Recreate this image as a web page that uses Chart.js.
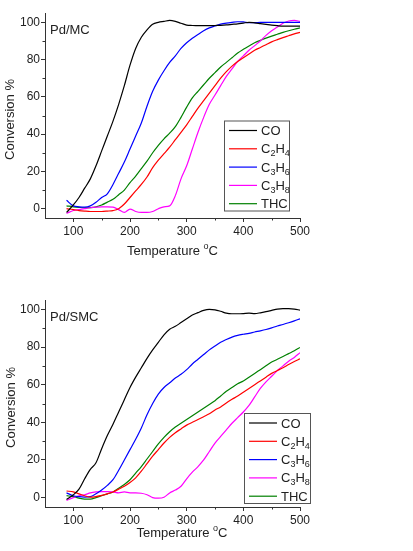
<!DOCTYPE html>
<html>
<head>
<meta charset="utf-8">
<script src="https://cdn.jsdelivr.net/npm/chart.js@4.4.0/dist/chart.umd.min.js"></script>
<style>
html, body { margin: 0; padding: 0; background: #fff; }
#c1 { position: absolute; left: 0; top: 0; }
#c2 { position: absolute; left: 0; top: 280px; }
</style>
</head>
<body>
<canvas id="c1" width="413" height="280"></canvas>
<canvas id="c2" width="413" height="271"></canvas>
<script>
// temperatures (°C) shared by every curve
var temps = [88, 100, 110, 120, 130, 140, 150, 160, 170, 180, 190, 200, 210, 220, 230, 240, 250, 260, 270, 280, 290,
             300, 310, 320, 330, 340, 350, 360, 370, 380, 390, 400, 410, 420, 430, 440, 450, 460, 470, 480, 490, 500];

var seriesNames = ['CO', 'C₂H₄', 'C₃H₆', 'C₃H₈', 'THC'];
var xTicks = [100, 200, 300, 400, 500];
var yTicks = [0, 20, 40, 60, 80, 100];
var xMinor = [150, 250, 350, 450];
var yMinor = [10, 30, 50, 70, 90];

// Pd/MC
var mcCO = [-2, 2, 6, 11, 16, 23, 31, 39, 47, 56, 66, 77, 86, 92, 96, 99, 100, 100.5, 101, 100.5, 99.5,
            98.5, 98.3, 98.2, 98.2, 98.2, 98.3, 98.4, 98.6, 98.9, 99.2, 99.6, 100, 99.7, 99.3, 98.9, 98.5, 98.2, 98, 98, 98, 98];
var mcC2H4 = [0, -0.5, -1, -1.3, -1.5, -1.5, -1.5, -1.3, -1, 0, 2.5, 6, 9.5, 13, 17, 22, 26, 29.5, 33, 37, 41,
              45, 49.5, 54, 58, 62, 66, 70, 73.5, 76.5, 79, 81, 83, 85, 86.5, 88, 89.5, 90.7, 91.8, 92.8, 93.8, 94.6];
var mcC3H6 = [4.5, 1.5, 1, 0.8, 1.5, 3.5, 6, 8, 13, 19, 25, 32, 39, 46, 55, 63, 69, 74, 78.5, 82, 86,
              89, 91.5, 93.5, 95.5, 97, 98, 99, 99.6, 100, 100.3, 100.2, 99.8, 99.8, 100, 100, 100, 100, 100, 100, 100, 100];
var mcC3H8 = [-2.5, -1, -0.5, 0, 0.5, 0.8, 1, 1, 0.8, -0.5, -2, -0.2, -1.5, -2, -2, -1.5, 0, 1, 1.5, 7, 16,
              23, 32, 41, 49, 56, 61, 66, 71, 75, 79, 82, 85, 87.5, 90, 93, 95.5, 97.5, 99.5, 100.7, 101, 100.5];
var mcTHC = [1.5, 1, 0.7, 0.5, 0.6, 1, 2, 3.5, 5, 7.5, 10, 14, 17.5, 21.5, 25.5, 30, 34, 37.5, 40.5, 44, 49,
             54.5, 59.5, 63, 66.5, 70, 73, 76, 78.5, 81, 83.5, 85.5, 87.3, 89, 90.3, 91.5, 92.6, 93.6, 94.6, 95.5, 96.3, 97];

// Pd/SMC
var smcCO = [-1, 1.5, 4.5, 10, 15, 18.5, 26, 33, 39, 45.5, 52, 58.5, 64, 69, 74, 78.5, 82.5, 86.5, 89.5, 91, 93,
             95, 97, 98.3, 99.5, 100, 99.8, 99, 98, 97.7, 97.7, 97.8, 98, 97.8, 98.2, 98.8, 99.5, 100.2, 100.4, 100.4, 100.2, 99.6];
var smcC2H4 = [3.5, 3, 2, 1, 0.2, 0.5, 1.2, 2, 3, 4.5, 6, 8, 10.5, 14, 18, 22, 25.5, 29, 32, 34.5, 36.5,
               38.5, 40, 41.5, 43, 44.5, 46.5, 48.2, 50.3, 52.2, 54, 56, 58, 60, 62, 64, 66, 67.5, 69, 70.7, 72.3, 73.7];
var smcC3H6 = [2.5, 1, 0.5, 0.3, 0.5, 2, 4, 6.5, 9.5, 14.5, 20, 25.5, 31, 37, 44, 50, 55, 58.5, 61, 63.5, 65.5,
               68, 71, 73.5, 76, 78.5, 80.5, 82.5, 84, 85.3, 86.2, 86.8, 87.3, 88, 88.6, 89.3, 90.2, 91.2, 92, 92.9, 93.9, 95];
var smcC3H8 = [-1.5, 0, 1, 1.5, 2.5, 3, 3.2, 3.2, 3, 2.5, 3, 2.5, 2.5, 2.3, 1.5, 0, -0.3, 0.2, 2.5, 4, 6,
               10, 13.5, 16.5, 20, 24.5, 29, 32.5, 36, 39.5, 42.5, 45.5, 49, 53.5, 58, 61.5, 64.5, 67.5, 70, 72.5, 74.5, 77];
var smcTHC = [1, 0.5, -0.3, -0.8, -0.8, 0, 1, 2, 3, 5, 7, 9.5, 13, 16.5, 20.5, 24.5, 28.5, 32, 35, 37.5, 39.5,
              41.5, 43.5, 45.5, 47.5, 49.5, 51.5, 54, 56.5, 58.5, 60.5, 62, 64, 66, 68, 70, 72, 73.5, 75, 76.5, 78, 79.8];

var colors = ['#000000', '#ff0000', '#0000ff', '#ff00ff', '#008000'];
var FONT = 'Liberation Sans, Arial, sans-serif';
var TXT = '#222';

var subDigits = { '₀': '0', '₁': '1', '₂': '2', '₃': '3', '₄': '4', '₅': '5', '₆': '6', '₇': '7', '₈': '8', '₉': '9' };

// draw a label, subscript digits smaller and lower
function drawRich(ctx, text, x, y) {
    ctx.textBaseline = 'alphabetic';
    ctx.textAlign = 'left';
    for (var i = 0; i < text.length; i++) {
        var ch = text[i];
        if (subDigits[ch]) {
            ctx.font = '9px ' + FONT;
            ctx.fillText(subDigits[ch], x, y + 3);
            x += ctx.measureText(subDigits[ch]).width;
        } else {
            ctx.font = '13px ' + FONT;
            ctx.fillText(ch, x, y);
            x += ctx.measureText(ch).width;
        }
    }
}

var extras = {
    id: 'extras',
    afterDraw: function(chart, args, o) {
        var ctx = chart.ctx;
        var a = chart.chartArea;
        var xs = chart.scales.x, ys = chart.scales.y;
        ctx.save();

        // minor ticks
        ctx.strokeStyle = '#333';
        ctx.lineWidth = 1;
        ctx.beginPath();
        xMinor.forEach(function(v) {
            var px = Math.round(xs.getPixelForValue(v)) + 0.5;
            ctx.moveTo(px, a.bottom);
            ctx.lineTo(px, a.bottom + 2.5);
        });
        yMinor.forEach(function(v) {
            var py = Math.round(ys.getPixelForValue(v)) + 0.5;
            ctx.moveTo(a.left, py);
            ctx.lineTo(a.left - 2.5, py);
        });
        ctx.stroke();

        // panel label
        ctx.fillStyle = TXT;
        ctx.font = '13px ' + FONT;
        ctx.textAlign = 'left';
        ctx.textBaseline = 'middle';
        ctx.fillText(o.panel, a.left + 5, a.top + 17);

        // y title
        ctx.save();
        ctx.translate(o.yTitleX, (a.top + a.bottom) / 2 + 4);
        ctx.rotate(-Math.PI / 2);
        ctx.textAlign = 'center';
        ctx.textBaseline = 'middle';
        ctx.font = '13px ' + FONT;
        ctx.fillText('Conversion %', 0, 0);
        ctx.restore();

        // x title with superscript o
        ctx.font = '13px ' + FONT;
        var w1 = ctx.measureText('Temperature ').width;
        var w3 = ctx.measureText('C').width;
        ctx.font = '9px ' + FONT;
        var w2 = ctx.measureText('o').width;
        var x0 = o.xTitleCx - (w1 + w2 + w3) / 2;
        var base = o.xTitleCy + 5;
        ctx.textBaseline = 'alphabetic';
        ctx.font = '13px ' + FONT;
        ctx.fillText('Temperature ', x0, base);
        ctx.font = '9px ' + FONT;
        ctx.fillText('o', x0 + w1, base - 6);
        ctx.font = '13px ' + FONT;
        ctx.fillText('C', x0 + w1 + w2, base);

        // legend box
        var L = o.legend;
        ctx.fillStyle = '#fff';
        ctx.fillRect(L.x, L.y, L.w, L.h);
        ctx.strokeStyle = '#555';
        ctx.strokeRect(L.x + 0.5, L.y + 0.5, L.w, L.h);
        chart.data.datasets.forEach(function(ds, i) {
            var cy = L.y + 10 + i * 18.3;
            ctx.strokeStyle = ds.borderColor;
            ctx.lineWidth = 1.2;
            ctx.beginPath();
            ctx.moveTo(L.x + 5, cy);
            ctx.lineTo(L.x + 33, cy);
            ctx.stroke();
            ctx.fillStyle = TXT;
            drawRich(ctx, ds.label, L.x + 37, cy + 4.5);
        });
        ctx.restore();
    }
};

function makeChart(id, series, cfg) {
    var datasets = seriesNames.map(function(name, i) {
        return {
            label: name,
            data: temps.map(function(t, k) { return { x: t, y: series[i][k] }; }),
            borderColor: colors[i],
            borderWidth: 1.2,
            pointRadius: 0,
            fill: false,
            cubicInterpolationMode: 'monotone'
        };
    });
    var tickFont = { family: FONT, size: 12 };
    return new Chart(document.getElementById(id), {
        type: 'line',
        data: { datasets: datasets },
        options: {
            responsive: false,
            animation: false,
            devicePixelRatio: 1,
            layout: { padding: { top: cfg.padTop, right: 113, bottom: 0, left: 0 } },
            plugins: { legend: { display: false }, tooltip: { enabled: false }, extras: cfg },
            scales: {
                x: {
                    type: 'linear', min: 50, max: 500,
                    afterBuildTicks: function(s) { s.ticks = xTicks.map(function(v) { return { value: v }; }); },
                    afterFit: function(s) { s.height = cfg.xh; },
                    grid: { drawOnChartArea: false, tickLength: 4, color: '#333' },
                    border: { color: '#333' },
                    ticks: { padding: 2, color: TXT, font: tickFont, maxRotation: 0 }
                },
                y: {
                    min: -5, max: 105,
                    afterBuildTicks: function(s) { s.ticks = yTicks.map(function(v) { return { value: v }; }); },
                    afterFit: function(s) { s.width = 45; },
                    grid: { drawOnChartArea: false, tickLength: 4, color: '#333' },
                    border: { color: '#333' },
                    ticks: { padding: 1, color: TXT, font: tickFont }
                }
            }
        },
        plugins: [extras]
    });
}

makeChart('c1', [mcCO, mcC2H4, mcC3H6, mcC3H8, mcTHC], {
    panel: 'Pd/MC', padTop: 13, xh: 62,
    legend: { x: 224, y: 120.5, w: 65, h: 90 },
    yTitleX: 10, xTitleCx: 172.5, xTitleCy: 250
});
makeChart('c2', [smcCO, smcC2H4, smcC3H6, smcC3H8, smcTHC], {
    panel: 'Pd/SMC', padTop: 20, xh: 44,
    legend: { x: 244, y: 133, w: 66, h: 90 },
    yTitleX: 11.5, xTitleCx: 182, xTitleCy: 251.5
});
</script>
</body>
</html>
